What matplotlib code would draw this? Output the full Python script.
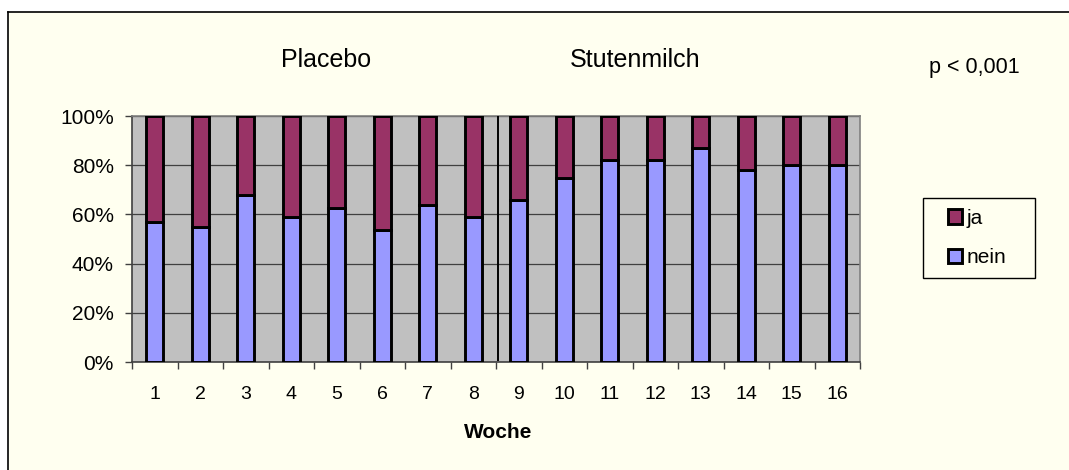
import numpy as np
import matplotlib.pyplot as plt
from matplotlib.patches import Rectangle
from matplotlib.lines import Line2D

# Daten: Anteil "nein" / "ja" je Woche (in %)
wochen = [str(i) for i in range(1, 17)]
nein = [57, 55, 68, 59, 62.5, 53.5, 64, 59, 66, 75, 82, 82, 87, 78, 80, 80]
ja = [100 - v for v in nein]
ytick_labels = ['0%', '20%', '40%', '60%', '80%', '100%']

plt.rcParams['font.family'] = ['Liberation Sans', 'DejaVu Sans']

W, H = 1069, 470
fig = plt.figure(figsize=(W / 100, H / 100), dpi=100)
fig.patch.set_facecolor('white')

# cremefarbener Hintergrund mit Rahmen links/oben
bg = '#FFFFF0'
fig.add_artist(Rectangle((8 / W, 0), 1, 1 - 12 / H, transform=fig.transFigure,
                         facecolor=bg, edgecolor='none', zorder=-2))
fig.add_artist(Line2D([8 / W, 8 / W], [0, 1 - 12 / H], transform=fig.transFigure,
                      color='black', lw=1.2, zorder=-1))
fig.add_artist(Line2D([8 / W, 1], [1 - 12 / H, 1 - 12 / H], transform=fig.transFigure,
                      color='black', lw=1.2, zorder=-1))

ax = fig.add_axes([132 / W, 1 - 362 / H, (860 - 132) / W, (362 - 116) / H])
ax.set_facecolor('#C0C0C0')

x = np.arange(1, len(wochen) + 1)
b_nein = ax.bar(x, nein, width=0.38, color='#9999FF', edgecolor='black', linewidth=2.1, zorder=3)
b_ja = ax.bar(x, ja, bottom=nein, width=0.38, color='#993366', edgecolor='black', linewidth=2.1, zorder=3)

ax.set_xlim(0.5, len(wochen) + 0.5)
ax.set_ylim(0, 100)

# Trennlinie zwischen Placebo und Stutenmilch
ax.plot([8.55, 8.55], [1, 100], color='black', lw=1.4, zorder=4)

# Gitter
ax.set_yticks(np.arange(0, 101, 20))
ax.set_yticklabels(ytick_labels, fontsize=15)
ax.yaxis.grid(True, color='#404040', lw=0.9, zorder=1)
ax.set_axisbelow(True)

# Kategorie-Ticks (Excel-Stil): Striche an Grenzen, Beschriftung in der Mitte
ax.set_xticks(np.arange(0.5, len(wochen) + 1, 1))
ax.set_xticklabels([])
ax.set_xticks(x, minor=True)
ax.set_xticklabels(wochen, minor=True, fontsize=14)
ax.tick_params(axis='x', which='minor', length=0, pad=17)
ax.tick_params(axis='x', which='major', length=5, width=1, color='#404040')
ax.tick_params(axis='y', length=5, width=1, color='#404040', pad=8)

for s in ax.spines.values():
    s.set_color('#808080')
    s.set_linewidth(1.2)
ax.spines['left'].set_color('#404040')
ax.spines['bottom'].set_color('#404040')

fig.text(498 / W, 1 - 432 / H, 'Woche', ha='center', va='center', fontsize=15, fontweight='bold')
fig.text(326 / W, 1 - 60 / H, 'Placebo', ha='center', va='center', fontsize=18)
fig.text(635 / W, 1 - 60 / H, 'Stutenmilch', ha='center', va='center', fontsize=18)
fig.text(974 / W, 1 - 68 / H, 'p < 0,001', ha='center', va='center', fontsize=15.5)

# Legende: Rahmen separat, Einträge ohne eigenen Rahmen
fig.add_artist(Rectangle((923 / W, 1 - 278 / H), 112 / W, 80 / H, transform=fig.transFigure,
                         facecolor=bg, edgecolor='black', lw=1.0, zorder=1))
leg = fig.legend([b_ja, b_nein], ['ja', 'nein'], loc='center',
                 bbox_to_anchor=(977 / W, 1 - 238 / H), fontsize=15,
                 handlelength=0.7, handleheight=0.7, handletextpad=0.2,
                 labelspacing=1.0, borderpad=0, borderaxespad=0, frameon=False)
leg.set_zorder(2)

fig.savefig('out.png', dpi=100, facecolor=fig.get_facecolor())
